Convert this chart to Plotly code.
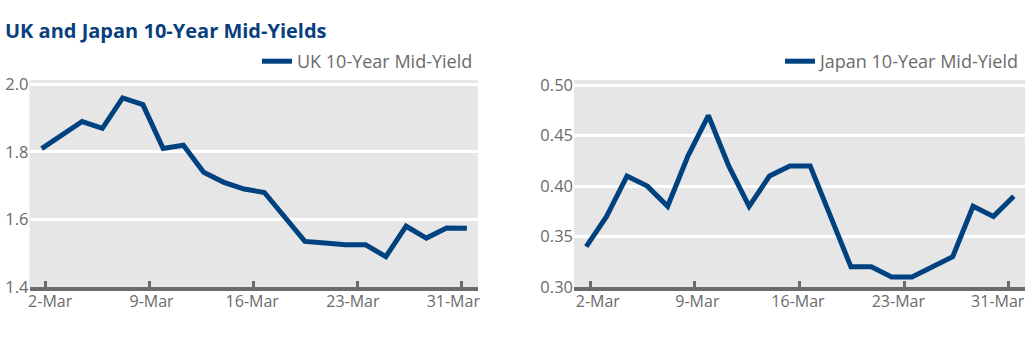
import plotly.graph_objects as go

dates = ["2-Mar","3-Mar","4-Mar","5-Mar","6-Mar","9-Mar","10-Mar","11-Mar","12-Mar","13-Mar",
         "16-Mar","17-Mar","18-Mar","19-Mar","20-Mar","23-Mar","24-Mar","25-Mar","26-Mar","27-Mar",
         "30-Mar","31-Mar"]
uk = [1.81,1.85,1.89,1.87,1.96,1.94,1.81,1.82,1.74,1.71,1.69,1.68,1.61,1.535,1.53,1.525,1.525,
      1.49,1.58,1.545,1.575,1.574]
japan = [0.34,0.37,0.41,0.40,0.38,0.43,0.47,0.42,0.38,0.41,0.42,0.42,0.37,0.32,0.32,0.31,0.31,
         0.32,0.33,0.38,0.37,0.39]
tick_labels = ["2-Mar","9-Mar","16-Mar","23-Mar","31-Mar"]
tick_pos = [0.2, 5.34, 10.48, 15.62, 20.75]
label_pos_uk = [0.42, 5.43, 10.4, 15.37, 20.33]
label_pos_jp = [0.57, 5.46, 10.4, 15.33, 20.21]

x = list(range(len(dates)))
BLUE = "#00427f"
GREY = "#6b6b6b"
FONT = "Open Sans"

fig = go.Figure()
fig.add_trace(go.Scatter(x=x, y=uk, mode="lines", name="UK 10-Year Mid-Yield",
                         line=dict(color=BLUE, width=5), xaxis="x", yaxis="y",
                         legend="legend", text=dates))
fig.add_trace(go.Scatter(x=x, y=japan, mode="lines", name="Japan 10-Year Mid-Yield",
                         line=dict(color=BLUE, width=5), xaxis="x2", yaxis="y2",
                         legend="legend2", text=dates))
# invisible companions so the label-only overlay axes are drawn
fig.add_trace(go.Scatter(x=x, y=uk, mode="lines", line=dict(width=0), opacity=0,
                         showlegend=False, hoverinfo="skip", xaxis="x3", yaxis="y"))
fig.add_trace(go.Scatter(x=x, y=japan, mode="lines", line=dict(width=0), opacity=0,
                         showlegend=False, hoverinfo="skip", xaxis="x4", yaxis="y2"))

W, H = 1030, 338
ybot, ytop = (H - 287) / H, (H - 80) / H
XR = [-0.6, 21.55]
xcommon = dict(range=XR, tickmode="array", tickvals=tick_pos, showticklabels=False,
               showgrid=False, zeroline=False, showline=True, linecolor=GREY, linewidth=4,
               ticks="inside", ticklen=6, tickwidth=3, tickcolor=GREY, automargin=False)
xlabels = dict(range=XR, tickmode="array", ticktext=tick_labels, showgrid=False,
               zeroline=False, showline=False, ticks="", automargin=False, side="bottom",
               ticklabeloverflow="allow", ticklabelstandoff=3,
               tickfont=dict(family=FONT, size=16, color=GREY))
ycommon = dict(showgrid=True, gridcolor="white", gridwidth=3, zeroline=False, showline=False,
               ticks="", automargin=False, tickfont=dict(family=FONT, size=16.5, color=GREY))

fig.update_layout(
    width=W, height=H, margin=dict(l=0, r=0, t=0, b=0, autoexpand=False),
    paper_bgcolor="white", plot_bgcolor="#e6e6e6",
    title=dict(text="<b>UK and Japan 10-Year Mid-Yields</b>", x=5 / W, xanchor="left",
               y=1 - 31 / H, yanchor="middle",
               font=dict(family=FONT, size=20, color="#0a3f7e")),
    xaxis=dict(domain=[29.5 / W, 478 / W], anchor="y", **xcommon),
    xaxis3=dict(overlaying="x", anchor="y", tickvals=label_pos_uk, **xlabels),
    yaxis=dict(domain=[ybot, ytop], anchor="x", range=[1.4, 2.013],
               tickvals=[1.4, 1.6, 1.8, 2.0], ticktext=["1.4", "1.6", "1.8", "2.0"], **ycommon),
    xaxis2=dict(domain=[574 / W, 1025 / W], anchor="y2", **xcommon),
    xaxis4=dict(overlaying="x2", anchor="y2", tickvals=label_pos_jp, **xlabels),
    yaxis2=dict(domain=[ybot, ytop], anchor="x2", range=[0.30, 0.5052],
                tickvals=[0.30, 0.35, 0.40, 0.45, 0.50],
                ticktext=["0.30", "0.35", "0.40", "0.45", "0.50"], **ycommon),
    legend=dict(x=478 / W, xanchor="right", y=ytop, yanchor="bottom", bgcolor="rgba(0,0,0,0)",
                font=dict(family=FONT, size=18, color=GREY)),
    legend2=dict(x=1025 / W, xanchor="right", y=ytop, yanchor="bottom", bgcolor="rgba(0,0,0,0)",
                 font=dict(family=FONT, size=18, color=GREY)),
    showlegend=True,
)

fig.write_html("out.html")
